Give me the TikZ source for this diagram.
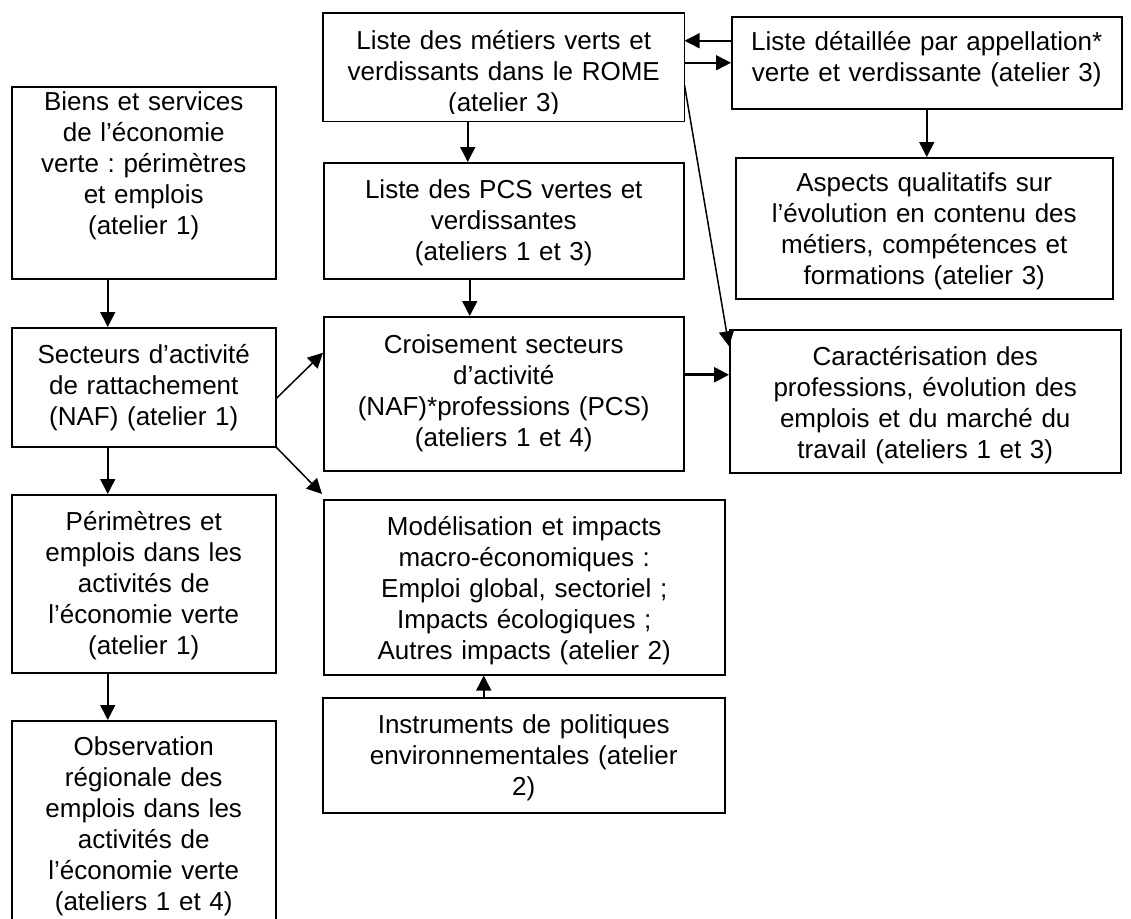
\documentclass[tikz,border=0pt]{standalone}
\usepackage{fontspec}
\setmainfont{Liberation Sans}
\usetikzlibrary{arrows.meta}
\frenchspacing

\begin{document}
\begin{tikzpicture}[
    x=1pt, y=-1pt,
    font=\fontsize{26}{31}\selectfont,
    % Styles
    box/.style 2 args={ % Text box: height, top to first baseline
        draw,
        line width=1.5pt,
        anchor=north west,
        inner xsep=4pt,
        inner ysep=0pt,
        align=center,
        text height=#2,
        text depth={#1-#2}
    },
    arrow/.style={
        -{Triangle[length=15pt, width=15pt]},
        line width=1.5pt
    },
    arrowb/.style={ % Thicker arrow
        arrow,
        line width=2.6pt
    }
]

    \useasboundingbox (0,0) rectangle (1131,918);

    % Left column
    \node[box={192}{24}, text width=256pt] (biens) at (11,86)
        {Biens et services\\de l’économie\\verte : périmètres\\et emplois\\(atelier 1)};
    \node[box={119}{36}, text width=256pt] (secteurs) at (11,327)
        {Secteurs d’activité\\de rattachement\\(NAF) (atelier 1)};
    \node[box={178}{36}, text width=256pt] (perimetres) at (11,494)
        {Périmètres et\\emplois dans les\\activités de\\l’économie verte\\(atelier 1)};
    \node[box={210}{35}, text width=256pt] (observation) at (11,720)
        {Observation\\régionale des\\emplois dans les\\activités de\\l’économie verte\\(ateliers 1 et 4)};

    % Middle column (the last line of the top box is cut off)
    \begin{scope}
        \clip (323,13) rectangle (683,113);
        \node[box={107}{36}, draw=none, text width=352pt] (rome) at (323,13)
            {Liste des métiers verts et\\verdissants dans le ROME\\(atelier 3)};
    \end{scope}
    \draw[line width=1.5pt] (rome.north west) rectangle (rome.south east);
    \node[box={116}{36}, text width=352pt] (pcs) at (323,162)
        {Liste des PCS vertes et\\verdissantes\\(ateliers 1 et 3)};
    \node[box={154}{37}, text width=352pt] (croisement) at (323,316)
        {Croisement secteurs\\d’activité\\(NAF)*professions (PCS)\\(ateliers 1 et 4)};
    \node[box={175}{36}, text width=393pt] (modele) at (323,499)
        {Modélisation et impacts\\macro-économiques :\\Emploi global, sectoriel ;\\Impacts écologiques ;\\Autres impacts (atelier 2)};
    \node[box={115}{36}, text width=394pt] (instruments) at (322,697)
        {Instruments de politiques\\environnementales (atelier\\2)};

    % Right column
    \node[box={92}{34}, text width=382pt] (detail) at (731,16)
        {Liste détaillée par appellation*\\verte et verdissante (atelier 3)};
    \node[box={141}{34}, text width=369pt] (aspects) at (735,157)
        {Aspects qualitatifs sur\\l’évolution en contenu des\\métiers, compétences et\\formations (atelier 3)};
    \node[box={143}{36}, text width=383pt] (caract) at (729,329)
        {Caractérisation des\\professions, évolution des\\emplois et du marché du\\travail (ateliers 1 et 3)};

    % Arrows in the left column
    \foreach \a/\b in {biens/secteurs, secteurs/perimetres, perimetres/observation} {
        \draw[arrow] ([xshift=-36pt]\a.south) -- ([xshift=-36pt]\b.north);
    }
    \draw[arrow] ([yshift=-11pt]secteurs.east) -- ([yshift=41pt]croisement.west);
    \draw[arrow] (secteurs.south east) -- ([xshift=-1pt, yshift=5pt]modele.north west);

    % Arrows in the middle column
    \draw[arrow] ([xshift=-36pt]rome.south) -- ([xshift=-36pt]pcs.north);
    \draw[arrow] ([xshift=-34pt]pcs.south) -- ([xshift=-34pt]croisement.north);
    \draw[arrow] ([xshift=-40pt]instruments.north) -- ([xshift=-40pt]instruments.north |- modele.south);
    \draw[arrowb] ([yshift=19pt]croisement.east) -- ([yshift=19pt]croisement.east -| caract.west);

    % Arrows on the right
    \draw[arrow] ([yshift=22pt]detail.west) -- ([yshift=22pt]detail.west -| rome.east);
    \draw[arrow] (detail.west -| rome.east) -- (detail.west);
    \draw[arrow] (detail.south) -- (detail.south |- aspects.north);
    \draw[arrow] ([yshift=-18pt]rome.east) -- ([yshift=55pt]caract.west);
\end{tikzpicture}
\end{document}
